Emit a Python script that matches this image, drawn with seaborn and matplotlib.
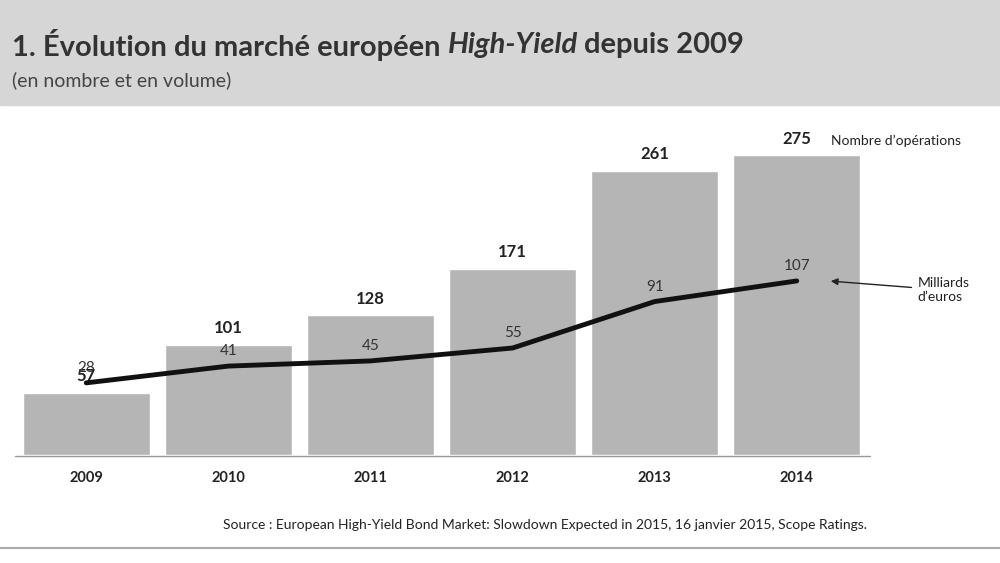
import matplotlib
matplotlib.use("Agg")
import matplotlib.pyplot as plt
import seaborn as sns
import pandas as pd

years = ["2009", "2010", "2011", "2012", "2013", "2014"]
operations = [57, 101, 128, 171, 261, 275]
volumes = [28, 41, 45, 55, 91, 107]

sns.set_theme(style="white")
plt.rcParams['font.family'] = ['Lato', 'DejaVu Sans']

fig = plt.figure(figsize=(10, 5.63), dpi=100)
fig.patches.append(plt.Rectangle((0, 1 - 105/563), 1, 105/563, transform=fig.transFigure,
                                 color="#d6d6d6", zorder=0))
t1 = fig.text(0.012, 1 - 45/563, "1. Évolution du marché européen ", fontsize=21, fontweight="bold",
              color="#333333", va="center")
fig.canvas.draw()
x2 = t1.get_window_extent().x1 / 1000
t2 = fig.text(x2, 1 - 45/563, "High-Yield", fontsize=21, fontweight="bold", style="italic",
              color="#333333", va="center")
fig.canvas.draw()
x3 = t2.get_window_extent().x1 / 1000
fig.text(x3 + 0.006, 1 - 45/563, "depuis 2009", fontsize=21, fontweight="bold", color="#333333", va="center")
fig.text(0.012, 1 - 80/563, "(en nombre et en volume)", fontsize=14, color="#444444", va="center")

df = pd.DataFrame({"year": years, "ops": operations, "vol": volumes, "x": range(len(years))})
rect = [0.001, 1 - 455/563, 0.881, 327/563]

ax = fig.add_axes(rect)
sns.barplot(data=df, x="year", y="ops", color="#b5b5b5", saturation=1, width=0.895, ax=ax)
ax.axis("off")
ax.set_xlim(-0.6, 5.6)
ax.set_ylim(0, 300)
for i, v in enumerate(operations):
    ax.text(i, v + 8, str(v), ha="center", va="bottom", fontsize=12, fontweight="bold", color="#222222")
    ax.text(i, -15, years[i], ha="center", va="top", fontsize=10.5, fontweight="bold", color="#222222")
ax.text(5.24, 275 + 8, "Nombre d’opérations", ha="left", va="bottom", fontsize=10, color="#222222")

ax2 = fig.add_axes(rect, label="line")
sns.lineplot(data=df, x="x", y="vol", color="#111111", linewidth=3.5, ax=ax2)
ax2.axis("off")
ax2.patch.set_alpha(0)
ax2.set_xlim(-0.6, 5.6)
ax2.set_ylim(-27.9, 225.5)
for i, v in enumerate(volumes):
    ax2.text(i, v + 6, str(v), ha="center", va="bottom", fontsize=11, color="#333333")
ax2.annotate("Milliards\nd’euros", xy=(5.22, 107), xytext=(5.85, 100), textcoords="data",
             fontsize=10, color="#222222", va="center", ha="left",
             arrowprops=dict(arrowstyle="-|>", color="#222222", lw=1), annotation_clip=False)

fig.add_artist(plt.Line2D([0.015, 0.87], [1 - 456/563] * 2, color="#999999", lw=1))
fig.add_artist(plt.Line2D([0, 1], [1 - 548/563] * 2, color="#aaaaaa", lw=1.5))
fig.text(0.545, 1 - 525/563, "Source : European High-Yield Bond Market: Slowdown Expected in 2015, 16 janvier 2015, Scope Ratings.",
         ha="center", va="center", fontsize=10, color="#222222")

fig.savefig("out.png", dpi=100)
